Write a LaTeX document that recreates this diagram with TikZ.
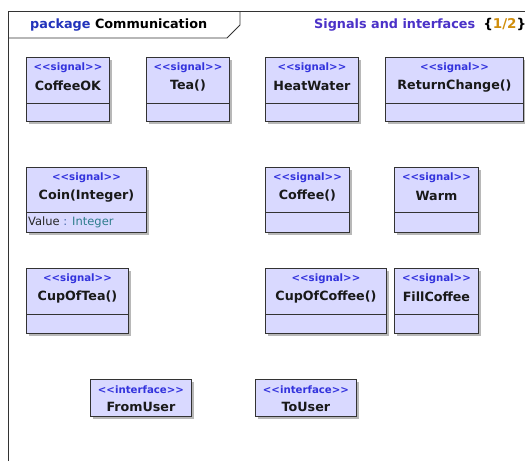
\documentclass[tikz,border=0pt]{standalone}
\usepackage{fontspec}
\setmainfont{DejaVu Sans}
\usetikzlibrary{shadows}

\definecolor{linec}{HTML}{333333}
\definecolor{boxfill}{HTML}{D9D9FF}
\definecolor{stereoc}{HTML}{3333DD}
\definecolor{kwc}{HTML}{2233BB}
\definecolor{headc}{HTML}{4B32C8}
\definecolor{pagec}{HTML}{D08E0C}
\definecolor{typec}{HTML}{2E7D8C}
\definecolor{sepc}{HTML}{4466AA}
\definecolor{shadowc}{HTML}{9A9A9A}

\tikzset{
  frameline/.style={draw=linec, line width=0.9pt},
  cls/.style={rectangle, draw=linec, fill=boxfill, line width=0.9pt, anchor=north west,
    inner sep=0pt,
    drop shadow={shadow xshift=2.5pt, shadow yshift=-2.5pt, fill=shadowc, opacity=0.7}},
  divider/.style={draw=linec, line width=0.8pt},
  stereo/.style={font=\bfseries\fontsize{10.2}{12}\selectfont, text=stereoc, inner sep=0pt},
  cname/.style={font=\bfseries\fontsize{12.7}{14}\selectfont, text=black!90, inner sep=0pt},
  attr/.style={font=\fontsize{11.5}{13}\selectfont, inner sep=0pt, anchor=west},
  head/.style={font=\bfseries\fontsize{12.8}{15}\selectfont, inner sep=0pt, anchor=west},
}

% signal class: id, left, top, width, upper height, lower height, name
\newcommand\sigbox[7]{%
  \node[cls, minimum width=#4pt, minimum height=#5pt+#6pt] (#1) at (#2,#3) {};
  \draw[divider] ([yshift=-#5pt]#1.north west) -- ([yshift=-#5pt]#1.north east);
  \node[stereo] (#1-st) at ([yshift=-11pt]#1.north) {{<}{<}signal{>}{>}};
  \node[cname] (#1-nm) at ([yshift=-29pt]#1.north) {#7};
}
% interface: id, left, top, width, height, name
\newcommand\ifcbox[6]{%
  \node[cls, minimum width=#4pt, minimum height=#5pt] (#1) at (#2,#3) {};
  \node[stereo] (#1-st) at ([yshift=-11pt]#1.north) {{<}{<}interface{>}{>}};
  \node[cname] (#1-nm) at ([yshift=-28pt]#1.north) {#6};
}

\begin{document}
\begin{tikzpicture}[x=1pt, y=-1pt]
\useasboundingbox (0,0) rectangle (525,461);
\fill[white] (0,0) rectangle (525,461);

% package frame with name tab
\draw[frameline] (8,461) -- (8,11) -- (525,11);
\draw[frameline] (8,38) -- (227,38) -- (240,25) -- (240,11);
\node[head] (pkg) at (30,25) {\textcolor{kwc}{package} Communication};
\node[head] (sheet) at (314,25) {\textcolor{headc}{Signals and interfaces}\hspace{8pt}{\fontsize{13.5}{15}\selectfont\{\textcolor{pagec}{1/2}\}}};

% signals
\sigbox{coffeeok}{26}{57}{83}{46}{18}{CoffeeOK}
\sigbox{tea}{146}{57}{83}{46}{18}{Tea()}
\sigbox{heat}{265}{57}{93}{46}{18}{HeatWater}
\sigbox{change}{385}{57}{138}{46}{18}{ReturnChange()}

\sigbox{coin}{26}{167}{120}{45}{20}{Coin(Integer)}
\node[attr] (coin-val) at (28,222) {\textcolor{black!85}{Value} \textcolor{sepc}{:} \textcolor{typec}{Integer}};
\sigbox{coffee}{265}{167}{84}{45}{20}{Coffee()}
\sigbox{warm}{394}{167}{84}{45}{20}{Warm}

\sigbox{cuptea}{26}{268}{102}{46}{19}{CupOfTea()}
\sigbox{cupcoffee}{265}{268}{121}{46}{19}{CupOfCoffee()}
\sigbox{fill}{394}{268}{84}{46}{19}{FillCoffee}

% interfaces
\ifcbox{fromuser}{90}{379}{101}{37}{FromUser}
\ifcbox{touser}{255}{379}{101}{37}{ToUser}
\end{tikzpicture}
\end{document}
